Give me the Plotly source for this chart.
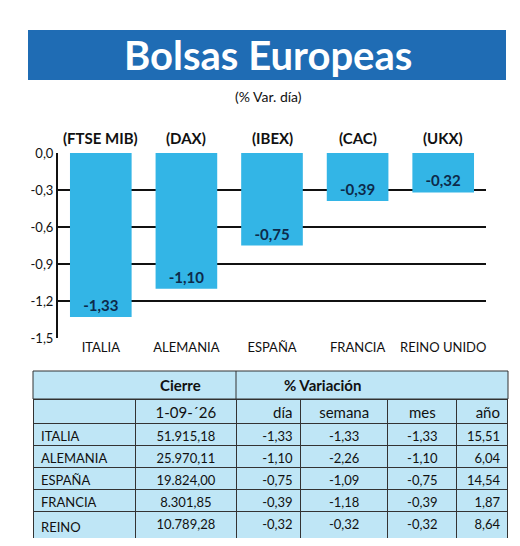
import plotly.graph_objects as go

paises = ['ITALIA', 'ALEMANIA', 'ESPAÑA', 'FRANCIA', 'REINO UNIDO']
indices = ['(FTSE MIB)', '(DAX)', '(IBEX)', '(CAC)', '(UKX)']
var_dia = [-1.33, -1.10, -0.75, -0.39, -0.32]
cierre = ['51.915,18', '25.970,11', '19.824,00', '8.301,85', '10.789,28']
dia = ['-1,33', '-1,10', '-0,75', '-0,39', '-0,32']
semana = ['-1,33', '-2,26', '-1,09', '-1,18', '-0,32']
mes = ['-1,33', '-1,10', '-0,75', '-0,39', '-0,32']
anio = ['15,51', '6,04', '14,54', '1,87', '8,64']
ticks = [0, -0.3, -0.6, -0.9, -1.2, -1.5]

W, H = 520, 546
FONT = 'Lato'
BLUE = '#33b5e6'
NAVY = '#0d2a4a'
CELL = '#bfe6f6'


def fmt(v):
    return ('%.2f' % v).replace('.', ',')


def py(px):
    return 1 - px / H


def pxx(px):
    return px / W


fig = go.Figure()

fig.add_trace(go.Bar(
    x=paises, y=var_dia, marker=dict(color=BLUE, line=dict(width=0)),
    width=0.72,
    text=['<b>' + fmt(v) + '</b>' for v in var_dia],
    textposition='inside', insidetextanchor='end',
    textfont=dict(family=FONT, size=15, color=NAVY),
    xaxis='x', yaxis='y', showlegend=False))

fig.add_trace(go.Table(
    domain=dict(x=[pxx(25), pxx(500)], y=[py(530), py(391)]),
    columnwidth=[102, 101, 64, 87, 69, 51],
    header=dict(values=['', '1-09-´26', 'día', 'semana', 'mes', 'año'],
                align=['left', 'center', 'right', 'center', 'center', 'right'],
                fill_color=CELL, line_color='#333333', height=24,
                font=dict(family=FONT, size=15, color='#111111')),
    cells=dict(values=[paises, cierre, dia, semana, mes, anio],
               align=['left', 'center', 'right', 'center', 'center', 'right'],
               fill_color=CELL, line_color='#333333', height=22,
               font=dict(family=FONT, size=13, color='#111111'))))

shapes = [
    dict(type='rect', xref='paper', yref='paper', x0=pxx(20), x1=pxx(498),
         y0=py(72), y1=py(22), fillcolor='#1f6cb4', line=dict(width=0), layer='below'),
    dict(type='rect', xref='paper', yref='paper', x0=pxx(25), x1=pxx(500),
         y0=py(391), y1=py(363), fillcolor=CELL, line=dict(color='#333333', width=1)),
    dict(type='line', xref='paper', yref='paper', x0=pxx(228), x1=pxx(228),
         y0=py(391), y1=py(363), line=dict(color='#333333', width=1)),
]

annotations = [
    dict(text='<b>Bolsas Europeas</b>', xref='paper', yref='paper', x=0.5, y=py(47),
         yanchor='middle', showarrow=False, font=dict(family=FONT, size=40, color='white')),
    dict(text='(% Var. día)', xref='paper', yref='paper', x=0.5, y=py(89),
         yanchor='middle', showarrow=False, font=dict(family=FONT, size=14, color='#111111')),
    dict(text='<b>Cierre</b>', xref='paper', yref='paper', x=pxx(150), y=py(377),
         yanchor='middle', showarrow=False, font=dict(family=FONT, size=15, color='#111111')),
    dict(text='<b>% Variación</b>', xref='paper', yref='paper', x=pxx(355), y=py(377),
         yanchor='middle', showarrow=False, font=dict(family=FONT, size=15, color='#111111')),
]
for p, ind in zip(paises, indices):
    annotations.append(dict(text='<b>' + ind + '</b>', xref='x', yref='paper', x=p,
                            y=py(130), yanchor='middle', showarrow=False,
                            font=dict(family=FONT, size=15, color='#111111')))

fig.update_layout(
    width=W, height=H, margin=dict(l=0, r=0, t=0, b=0, autoexpand=False),
    paper_bgcolor='white', plot_bgcolor='white',
    bargap=0.28,
    xaxis=dict(domain=[pxx(50), pxx(478)], anchor='y', showline=False, showgrid=False,
               automargin=False,
               tickfont=dict(family=FONT, size=13, color='#111111'), ticks=''),
    yaxis=dict(domain=[py(330), py(145)], range=[-1.5, 0], tickvals=ticks,
               automargin=False,
               ticktext=[('%.1f' % t).replace('.', ',') for t in ticks],
               showgrid=True, gridcolor='#111111', gridwidth=2,
               showline=True, linecolor='#111111', linewidth=2, zeroline=False,
               tickfont=dict(family=FONT, size=13, color='#111111')),
    shapes=shapes, annotations=annotations)

fig.write_html('out.html')
